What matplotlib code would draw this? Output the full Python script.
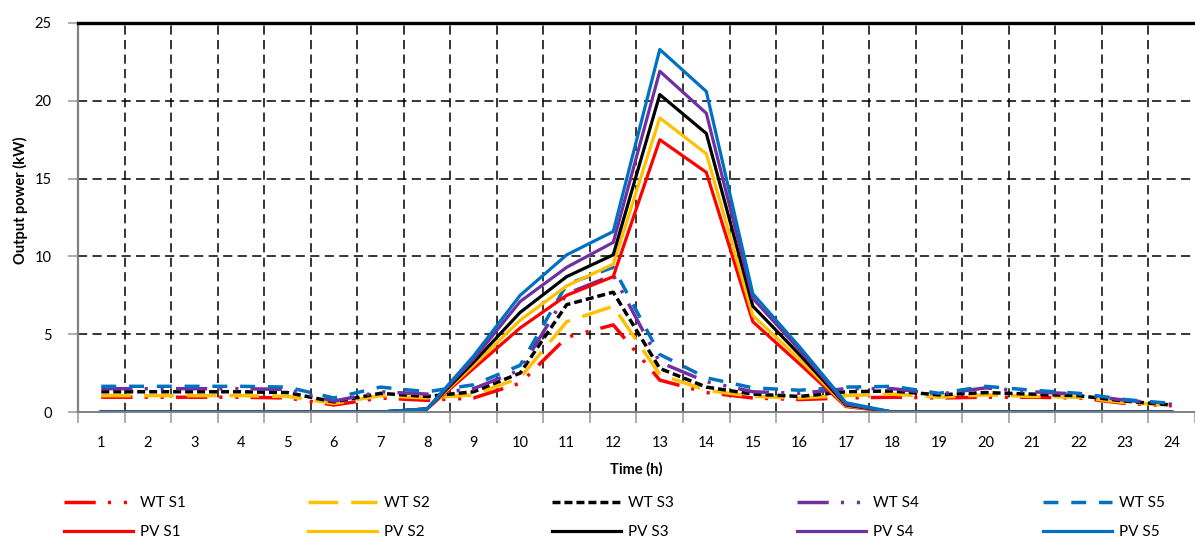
import matplotlib
matplotlib.use('Agg')
import matplotlib.pyplot as plt
from matplotlib.ticker import FixedLocator

plt.rcParams['font.family'] = ['Lato', 'DejaVu Sans']

hours = list(range(1, 25))

# wind turbine output (kW)
wt_s1 = [0.95, 0.95, 0.95, 0.95, 0.9, 0.45, 0.9, 0.75, 0.9, 1.85, 4.8, 5.6,
         2.05, 1.25, 0.9, 0.8, 0.9, 0.95, 0.9, 0.95, 0.95, 0.9, 0.55, 0.4]
wt_s2 = [1.05, 1.05, 1.05, 1.05, 1.0, 0.55, 1.05, 0.9, 1.1, 2.2, 5.8, 6.8,
         2.4, 1.4, 1.0, 0.9, 1.05, 1.15, 0.95, 1.1, 1.0, 0.95, 0.6, 0.45]
wt_s3 = [1.3, 1.3, 1.3, 1.3, 1.25, 0.65, 1.2, 1.0, 1.3, 2.5, 6.9, 7.7,
         2.8, 1.6, 1.15, 1.0, 1.3, 1.35, 1.1, 1.25, 1.15, 1.05, 0.7, 0.45]
wt_s4 = [1.5, 1.5, 1.5, 1.5, 1.45, 0.7, 1.3, 1.15, 1.5, 2.7, 7.6, 8.8,
         3.2, 1.95, 1.3, 1.2, 1.5, 1.5, 1.15, 1.55, 1.3, 1.15, 0.75, 0.5]
wt_s5 = [1.65, 1.65, 1.65, 1.65, 1.6, 0.9, 1.6, 1.3, 1.75, 3.0, 8.2, 9.3,
         3.7, 2.2, 1.55, 1.4, 1.6, 1.65, 1.2, 1.65, 1.4, 1.2, 0.8, 0.55]

# photovoltaic output (kW)
pv_s1 = [0, 0, 0, 0, 0, 0, 0, 0.2, 2.8, 5.4, 7.5, 8.7,
         17.5, 15.4, 5.8, 3.1, 0.35, 0, 0, 0, 0, 0, 0, 0]
pv_s2 = [0, 0, 0, 0, 0, 0, 0, 0.2, 3.0, 5.9, 8.1, 9.5,
         18.9, 16.6, 6.2, 3.4, 0.4, 0, 0, 0, 0, 0, 0, 0]
pv_s3 = [0, 0, 0, 0, 0, 0, 0, 0.2, 3.2, 6.4, 8.7, 10.1,
         20.4, 17.9, 6.8, 3.7, 0.45, 0, 0, 0, 0, 0, 0, 0]
pv_s4 = [0, 0, 0, 0, 0, 0, 0, 0.2, 3.4, 7.1, 9.3, 10.9,
         21.9, 19.2, 7.3, 4.0, 0.5, 0, 0, 0, 0, 0, 0, 0]
pv_s5 = [0, 0, 0, 0, 0, 0, 0, 0.2, 3.6, 7.5, 10.1, 11.6,
         23.3, 20.6, 7.6, 4.2, 0.6, 0, 0, 0, 0, 0, 0, 0]

colors = ['#FF0000', '#FFC000', '#000000', '#7030A0', '#0070C0']
wt_data = [wt_s1, wt_s2, wt_s3, wt_s4, wt_s5]
pv_data = [pv_s1, pv_s2, pv_s3, pv_s4, pv_s5]
wt_styles = [(0, (9, 3.5, 0.9, 3.7, 0.9, 3.5)),
             (0, (8.6, 3.7)),
             (0, (2.3, 1.15)),
             (0, (9, 3.5, 0.9, 3.7, 0.9, 3.5)),
             (0, (4.3, 3.7))]

fig = plt.figure(figsize=(11.95, 5.39), dpi=100)
ax = fig.add_axes([78 / 1195, 1 - 412 / 539, 1 - 78 / 1195, 389 / 539])

wt_lines = []
pv_lines = []
for i in range(5):
    l, = ax.plot(hours, wt_data[i], color=colors[i], lw=2.5,
                 linestyle=wt_styles[i], label='WT S%d' % (i + 1))
    wt_lines.append(l)
for i in range(5):
    l, = ax.plot(hours, pv_data[i], color=colors[i], lw=2.3,
                 label='PV S%d' % (i + 1))
    pv_lines.append(l)

ax.set_xlim(0.5, 24.5)
ax.set_ylim(0, 25)
ax.set_xticks(hours)
ax.xaxis.set_minor_locator(FixedLocator([h + 0.5 for h in range(0, 25)]))
ax.set_yticks([0, 5, 10, 15, 20, 25])
ax.tick_params(axis='x', which='major', length=0, pad=17, labelsize=10.5)
ax.tick_params(axis='x', which='minor', length=8, width=1.2, color='#a0a0a0')
ax.tick_params(axis='y', length=7, width=1.2, color='#a0a0a0', pad=12,
               labelsize=10.5)

for y in [5, 10, 15, 20]:
    ax.axhline(y, color='black', lw=1.1, linestyle=(0, (6, 3.5)), zorder=0.5)
for x in [h + 0.5 for h in range(1, 24)]:
    ax.axvline(x, color='black', lw=1.1, linestyle=(0, (6, 3.5)), zorder=0.5)

ax.spines['right'].set_visible(False)
ax.spines['top'].set_color('black')
ax.spines['top'].set_linewidth(2.4)
ax.spines['left'].set_color('#808080')
ax.spines['left'].set_linewidth(1.6)
ax.spines['bottom'].set_color('#808080')
ax.spines['bottom'].set_linewidth(1.4)

ax.set_xlabel('Time (h)', fontsize=10.5, fontweight='bold')
ax.set_ylabel('Output power (kW)', fontsize=10.5, fontweight='bold')
ax.xaxis.set_label_coords(0.5, -(462 - 412) / 389)
ax.yaxis.set_label_coords(-(78 - 28) / 1117, (412 - 200) / 389)

# one small legend per column so the columns sit where the reference has them
col_x = [64, 308, 552, 797, 1043]
for i in range(5):
    fig.legend([wt_lines[i], pv_lines[i]],
               ['WT S%d' % (i + 1), 'PV S%d' % (i + 1)],
               loc='upper left', bbox_to_anchor=(col_x[i] / 1195, 1 - 496 / 539),
               frameon=False, fontsize=11, handlelength=4.5,
               handletextpad=0.45, labelspacing=1.0, borderpad=0,
               borderaxespad=0)

fig.savefig('out.png', dpi=100)
